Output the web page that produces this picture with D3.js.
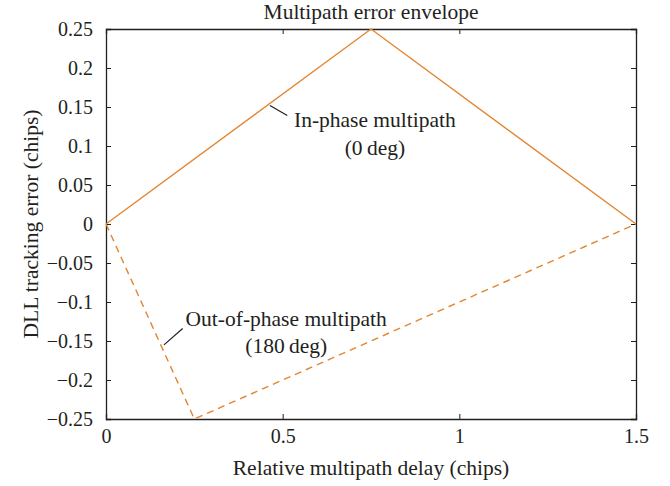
<!DOCTYPE html>
<html><head><meta charset="utf-8">
<script src="https://cdn.jsdelivr.net/npm/d3@7"></script>
<style>body{margin:0;background:#fff}svg{display:block}text{font-family:"Liberation Serif","Times New Roman",serif;fill:#231f20}</style>
</head><body>
<script>
const title = "Multipath error envelope";
const xLabel = "Relative multipath delay (chips)";
const yLabel = "DLL tracking error (chips)";
const xTicks = [0, 0.5, 1, 1.5];
const yTicks = [0.25, 0.2, 0.15, 0.1, 0.05, 0, -0.05, -0.1, -0.15, -0.2, -0.25];
const inPhaseX = [0, 0.75, 1.5];
const inPhaseY = [0, 0.25, 0];
const outPhaseX = [0, 0.25, 1.5];
const outPhaseY = [0, -0.25, 0];
const inPhaseLabel = ["In-phase multipath", "(0\u2009deg)"];
const outPhaseLabel = ["Out-of-phase multipath", "(180\u2009deg)"];

const W = 670, H = 486;
const m = {left:106, right:34, top:29, bottom:67};
const svg = d3.select("body").append("svg").attr("width", W).attr("height", H);
const x = d3.scaleLinear().domain([0, 1.5]).range([m.left, W - m.right]);
const y = d3.scaleLinear().domain([-0.25, 0.25]).range([H - m.bottom, m.top]);
const color = "#e3852f";
const fs = 20, ls = 21.5;
const fmt = d => d < 0 ? "\u2212" + String(-d) : String(d);

// axes with inward ticks
const tl = 5;
const gB = svg.append("g").attr("transform", `translate(0,${y(-0.25)})`)
  .call(d3.axisBottom(x).tickValues(xTicks).tickSize(-tl).tickPadding(10).tickFormat(fmt));
const gT = svg.append("g").attr("transform", `translate(0,${y(0.25)})`)
  .call(d3.axisTop(x).tickValues(xTicks).tickSize(-tl).tickFormat(""));
const gL = svg.append("g").attr("transform", `translate(${x(0)},0)`)
  .call(d3.axisLeft(y).tickValues(yTicks).tickSize(-tl).tickPadding(13).tickFormat(fmt));
const gR = svg.append("g").attr("transform", `translate(${x(1.5)},0)`)
  .call(d3.axisRight(y).tickValues(yTicks).tickSize(-tl).tickFormat(""));
[gB, gT, gL, gR].forEach(g => {
  g.selectAll("path.domain").attr("stroke", "#231f20").attr("stroke-width", 1.3);
  g.selectAll(".tick line").attr("stroke", "#231f20").attr("stroke-width", 1);
  g.selectAll(".tick text").style("font-size", fs + "px").attr("fill", "#231f20")
   .style("font-family", '"Liberation Serif",serif');
});
gB.selectAll(".tick text").attr("dy", "0.71em");

const line = d3.line().x(d => x(d[0])).y(d => y(d[1]));
const inPts = inPhaseX.map((v, i) => [v, inPhaseY[i]]);
const outPts = outPhaseX.map((v, i) => [v, outPhaseY[i]]);
svg.append("path").datum(inPts).attr("d", line).attr("fill", "none")
  .attr("stroke", color).attr("stroke-width", 1.4);
svg.append("path").datum(outPts).attr("d", line).attr("fill", "none")
  .attr("stroke", color).attr("stroke-width", 1.4).attr("stroke-dasharray", "7,5");

// annotations (positions in data units)
const ann = [
  {lines: inPhaseLabel, cx: 0.761, y1: 0.124, y2: 0.089, lead: [[0.464, 0.152], [0.513, 0.139]]},
  {lines: outPhaseLabel, cx: 0.51, y1: -0.131, y2: -0.166, lead: [[0.164, -0.155], [0.217, -0.134]]}
];
ann.forEach(a => {
  svg.append("line").attr("x1", x(a.lead[0][0])).attr("y1", y(a.lead[0][1]))
    .attr("x2", x(a.lead[1][0])).attr("y2", y(a.lead[1][1]))
    .attr("stroke", "#231f20").attr("stroke-width", 1.2);
  svg.append("text").attr("x", x(a.cx)).attr("y", y(a.y1)).attr("text-anchor", "middle")
    .style("font-size", ls + "px").text(a.lines[0]);
  svg.append("text").attr("x", x(a.cx)).attr("y", y(a.y2)).attr("text-anchor", "middle")
    .style("font-size", ls + "px").text(a.lines[1]);
});

svg.append("text").attr("x", (x(0) + x(1.5)) / 2).attr("y", 19).attr("text-anchor", "middle")
  .style("font-size", ls + "px").text(title);
svg.append("text").attr("x", (x(0) + x(1.5)) / 2).attr("y", 475).attr("text-anchor", "middle")
  .style("font-size", ls + "px").text(xLabel);
svg.append("text").attr("transform", `translate(38,${y(0)}) rotate(-90)`).attr("text-anchor", "middle")
  .style("font-size", ls + "px").text(yLabel);
</script>
</body></html>
